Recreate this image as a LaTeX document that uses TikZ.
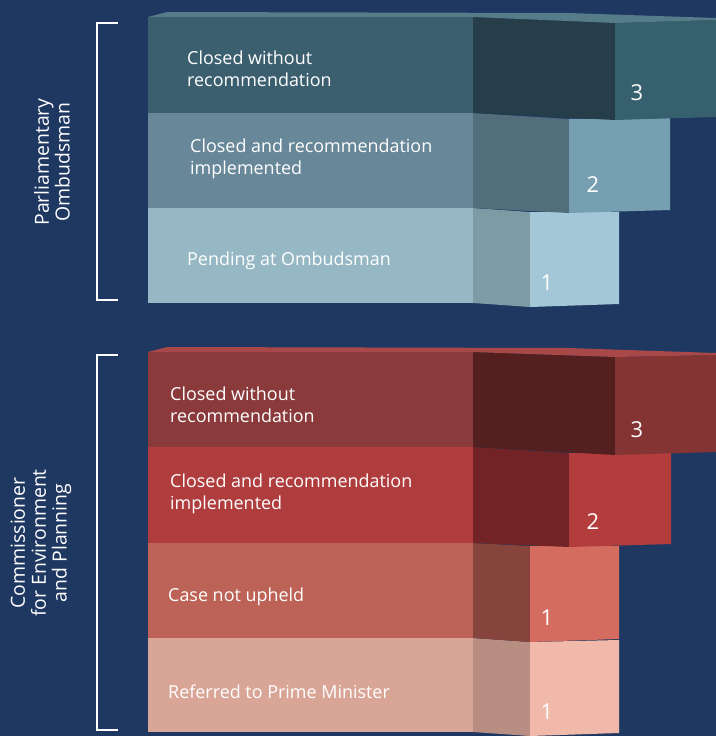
\documentclass[tikz,border=0pt]{standalone}
\usepackage{fontspec}
\setmainfont{Open Sans}
\usepackage{xcolor}
\usepackage{tikz}
\usetikzlibrary{positioning,calc}

\definecolor{navy}{HTML}{1F3862}
% Ombudsman colours
\definecolor{pTop}{HTML}{567B89}
\definecolor{pA}{HTML}{3C5F70}
\definecolor{pAd}{HTML}{263D4A}
\definecolor{pAr}{HTML}{37606F}
\definecolor{pB}{HTML}{68889A}
\definecolor{pBd}{HTML}{526E7B}
\definecolor{pBr}{HTML}{779FB2}
\definecolor{pC}{HTML}{96B8C4}
\definecolor{pCd}{HTML}{7C9BA5}
\definecolor{pCr}{HTML}{A3C7D6}
% Commissioner colours
\definecolor{cTop}{HTML}{A94848}
\definecolor{cA}{HTML}{8B3A3C}
\definecolor{cAd}{HTML}{541F1F}
\definecolor{cAr}{HTML}{853434}
\definecolor{cB}{HTML}{B03D3E}
\definecolor{cBd}{HTML}{722326}
\definecolor{cBr}{HTML}{B33C3D}
\definecolor{cC}{HTML}{BC6256}
\definecolor{cCd}{HTML}{87443C}
\definecolor{cCr}{HTML}{D56C60}
\definecolor{cD}{HTML}{D9A597}
\definecolor{cDd}{HTML}{B88D82}
\definecolor{cDr}{HTML}{F0B9AA}

\tikzset{
    lbl/.style={text=white, anchor=west, align=left, inner sep=0pt,
        font=\fontsize{18}{22}\selectfont},
    num/.style={text=white, inner sep=0pt, font=\fontsize{22}{24}\selectfont},
    grp/.style={text=white, rotate=90, align=center, inner sep=0pt,
        font=\fontsize{19.5}{21}\selectfont},
    brace/.style={draw=white, line width=1.5pt}
}

\begin{document}
\begin{tikzpicture}[x=1bp, y=-1bp]
    \fill[navy] (0,0) rectangle (716,736);
    \useasboundingbox (0,0) rectangle (716,736);

    % Parliamentary Ombudsman
    \fill[pC] (148,208) rectangle (473,303);
    \fill[pCd] (473,208) -- (530,212) -- (530,307) -- (473,303) -- cycle;
    \fill[pCr] (530,212) -- (619,212) -- (619,304) -- (530,307) -- cycle;

    \fill[pB] (148,113) rectangle (473,208);
    \fill[pBd] (473,113) -- (569,119) -- (569,213) -- (473,208) -- cycle;
    \fill[pBr] (569,119) -- (670,118) -- (670,210) -- (569,213) -- cycle;

    \fill[pA] (148,17) rectangle (473,113);
    \fill[pAd] (473,17) -- (615,23) -- (615,120) -- (473,113) -- cycle;
    \fill[pAr] (615,23) -- (716,20) -- (716,117) -- (615,120) -- cycle;
    \fill[pTop] (148,17) -- (167,12) -- (568,13) -- (716,18) -- (716,20)
        -- (615,23) -- (473,17) -- cycle;

    \node[lbl] (pClosed) at (187,69) {Closed without\\recommendation};
    \node[lbl] (pImpl) at (190,159) {Closed and recommendation\\implemented};
    \node[lbl] (pPend) at (187,261) {Pending at Ombudsman};

    \node[num] (pThree) at (637,93) {3};
    \node[num] (pTwo) at (593,185) {2};
    \node[num] (pOne) at (547,283) {1};

    \draw[brace] (118,23) -- (97,23) -- (97,300) -- (118,300);
    \node[grp] (pName) at (52,162) {Parliamentary\\Ombudsman};

    % Commissioner for Environment and Planning
    \fill[cD] (148,638) rectangle (473,732);
    \fill[cDd] (473,638) -- (530,642) -- (530,736) -- (473,732) -- cycle;
    \fill[cDr] (530,642) -- (619,640) -- (619,733) -- (530,736) -- cycle;

    \fill[cC] (148,543) rectangle (473,638);
    \fill[cCd] (473,543) -- (530,546) -- (530,642) -- (473,638) -- cycle;
    \fill[cCr] (530,546) -- (619,546) -- (619,639) -- (530,642) -- cycle;

    \fill[cB] (148,447) rectangle (473,543);
    \fill[cBd] (473,447) -- (569,453) -- (569,547) -- (473,543) -- cycle;
    \fill[cBr] (569,453) -- (671,453) -- (671,544) -- (569,547) -- cycle;

    \fill[cA] (148,352) rectangle (473,447);
    \fill[cAd] (473,352) -- (615,357) -- (615,455) -- (473,447) -- cycle;
    \fill[cAr] (615,357) -- (716,355) -- (716,452) -- (615,455) -- cycle;
    \fill[cTop] (148,352) -- (167,347) -- (568,348) -- (716,353) -- (716,355)
        -- (615,357) -- (473,352) -- cycle;

    \node[lbl] (cClosed) at (170,405) {Closed without\\recommendation};
    \node[lbl] (cImpl) at (170,494) {Closed and recommendation\\implemented};
    \node[lbl] (cNot) at (168,597) {Case not upheld};
    \node[lbl] (cRef) at (168,692) {Referred to Prime Minister};

    \node[num] (cThree) at (637,430) {3};
    \node[num] (cTwo) at (593,522) {2};
    \node[num] (cOne) at (547,618) {1};
    \node[num] (cOneB) at (547,712) {1};

    \draw[brace] (118,355) -- (97,355) -- (97,730) -- (118,730);
    \node[grp] (cName) at (41,543) {Commissioner\\for Environment\\and Planning};
\end{tikzpicture}
\end{document}
